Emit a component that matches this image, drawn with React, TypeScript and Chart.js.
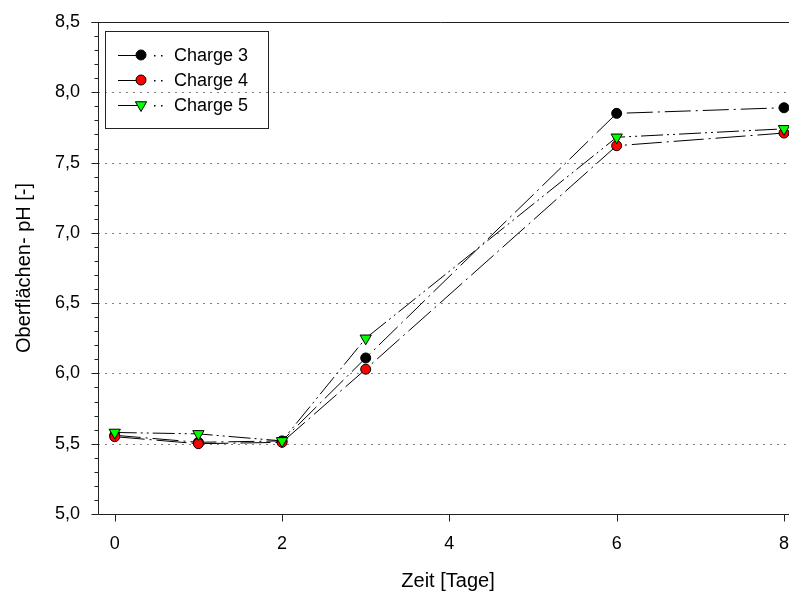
import React, { useEffect, useRef } from 'react';
import { Chart, registerables } from 'chart.js';

Chart.register(...registerables);

const days = [0, 1, 2, 3, 6, 8];
const charge3 = [5.56, 5.51, 5.52, 6.11, 7.85, 7.89];
const charge4 = [5.55, 5.5, 5.51, 6.03, 7.62, 7.71];
const charge5 = [5.58, 5.57, 5.52, 6.25, 7.68, 7.74];
const seriesNames = ['Charge 3', 'Charge 4', 'Charge 5'];
const xTickValues = [0, 2, 4, 6, 8];
const yMajorTicks = [5.0, 5.5, 6.0, 6.5, 7.0, 7.5, 8.0, 8.5];
const xTitle = 'Zeit [Tage]';
const yTitle = 'Oberflächen- pH [-]';

const FONT = "'Liberation Sans', Arial, sans-serif";

function drawMarker(ctx: CanvasRenderingContext2D, kind: string, x: number, y: number, fill: string) {
  ctx.save();
  ctx.fillStyle = fill;
  ctx.strokeStyle = '#000';
  ctx.lineWidth = 1;
  ctx.setLineDash([]);
  ctx.beginPath();
  if (kind === 'circle') {
    ctx.arc(x, y, 5, 0, Math.PI * 2);
  } else {
    const r = 6.5;
    const s = r * Math.sin(Math.PI / 3);
    ctx.moveTo(x, y + r);
    ctx.lineTo(x - s, y - r / 2);
    ctx.lineTo(x + s, y - r / 2);
    ctx.closePath();
  }
  ctx.fill();
  ctx.stroke();
  ctx.restore();
}

const decorPlugin = {
  id: 'decor',
  beforeDatasetsDraw(chart: any) {
    const { ctx, chartArea } = chart;
    const y = chart.scales.y;
    ctx.save();
    ctx.strokeStyle = '#808080';
    ctx.lineWidth = 1;
    ctx.setLineDash([2, 5]);
    yMajorTicks.forEach((v) => {
      if (v <= 5.0 || v >= 8.5) return;
      const py = Math.round(y.getPixelForValue(v)) + 0.5;
      ctx.beginPath();
      ctx.moveTo(chartArea.left, py);
      ctx.lineTo(chartArea.right, py);
      ctx.stroke();
    });
    ctx.restore();
  },
  afterDraw(chart: any) {
    const { ctx, chartArea } = chart;
    const xs = chart.scales.x;
    const ys = chart.scales.y;
    const L = Math.round(chartArea.left) + 0.5;
    const B = Math.round(chartArea.bottom) + 0.5;
    const T = Math.round(chartArea.top) + 0.5;
    ctx.save();
    ctx.strokeStyle = '#222';
    ctx.lineWidth = 1;
    ctx.setLineDash([]);
    ctx.beginPath();
    ctx.moveTo(L, T);
    ctx.lineTo(L, B);
    ctx.moveTo(L, B);
    ctx.lineTo(chartArea.right + 2, B);
    ctx.moveTo(L - 7, T);
    ctx.lineTo(chartArea.right + 2, T);
    for (let i = 0; i <= 35; i++) {
      const v = 5 + i / 10;
      const py = Math.round(ys.getPixelForValue(v)) + 0.5;
      const major = i % 5 === 0;
      ctx.moveTo(L - (major ? 7 : 4), py);
      ctx.lineTo(L, py);
    }
    xTickValues.forEach((v) => {
      const px = Math.round(xs.getPixelForValue(v)) + 0.5;
      ctx.moveTo(px, B);
      ctx.lineTo(px, B + 7);
    });
    ctx.stroke();

    ctx.fillStyle = '#000';
    ctx.font = `20px ${FONT}`;
    ctx.textAlign = 'center';
    ctx.textBaseline = 'middle';
    ctx.fillText(xTitle, 448, 581);
    ctx.save();
    ctx.translate(24, 268);
    ctx.rotate(-Math.PI / 2);
    ctx.fillText(yTitle, 0, 0);
    ctx.restore();

    ctx.strokeStyle = '#222';
    ctx.strokeRect(105.5, 31.5, 163, 97);
    const kinds = ['circle', 'circle', 'triangle'];
    const fills = ['#000000', '#ff0000', '#00ff00'];
    const rows = [55, 80, 105];
    ctx.font = `18px ${FONT}`;
    ctx.textAlign = 'left';
    rows.forEach((ry, i) => {
      ctx.strokeStyle = '#000';
      ctx.beginPath();
      ctx.moveTo(118, ry + 0.5);
      ctx.lineTo(140, ry + 0.5);
      ctx.stroke();
      ctx.fillStyle = '#000';
      ctx.fillRect(154, ry, 1.5, 1.5);
      ctx.fillRect(161, ry, 1.5, 1.5);
      drawMarker(ctx, kinds[i], 141, ry, fills[i]);
      ctx.fillStyle = '#000';
      ctx.fillText(seriesNames[i], 174, ry + 1);
    });
    ctx.restore();
  },
};

export default function App() {
  const ref = useRef<HTMLCanvasElement | null>(null);
  useEffect(() => {
    if (!ref.current) return;
    const mk = (vals: number[]) => days.map((d, i) => ({ x: d, y: vals[i] }));
    const common = {
      showLine: true,
      borderColor: '#000',
      borderWidth: 1,
      pointBorderColor: '#000',
      pointBorderWidth: 1,
      clip: false,
    };
    const chart = new Chart(ref.current, {
      type: 'scatter',
      data: {
        datasets: [
          {
            ...common,
            label: seriesNames[0],
            data: mk(charge3),
            borderDash: [26, 5, 2, 5],
            backgroundColor: '#000000',
            pointBackgroundColor: '#000000',
            pointRadius: 5,
            pointHoverRadius: 5,
            pointStyle: 'circle',
            order: 3,
          } as any,
          {
            ...common,
            label: seriesNames[1],
            data: mk(charge4),
            borderDash: [30, 5, 2, 5],
            backgroundColor: '#ff0000',
            pointBackgroundColor: '#ff0000',
            pointRadius: 5,
            pointHoverRadius: 5,
            pointStyle: 'circle',
            order: 2,
          } as any,
          {
            ...common,
            label: seriesNames[2],
            data: mk(charge5),
            borderDash: [22, 4, 2, 4, 2, 4],
            backgroundColor: '#00ff00',
            pointBackgroundColor: '#00ff00',
            pointRadius: 6.5,
            pointHoverRadius: 6.5,
            pointStyle: 'triangle',
            pointRotation: 180,
            order: 1,
          } as any,
        ],
      },
      options: {
        responsive: false,
        animation: false,
        events: [],
        layout: { autoPadding: false, padding: { top: 22, right: 0, left: 0, bottom: 0 } },
        plugins: { legend: { display: false }, tooltip: { enabled: false } },
        scales: {
          x: {
            type: 'linear',
            min: -0.2,
            max: 8.06,
            grid: { display: false },
            border: { display: false },
            afterBuildTicks: (s: any) => {
              s.ticks = xTickValues.map((v) => ({ value: v }));
            },
            afterFit: (s: any) => {
              s.height = 80;
              s.paddingLeft = 0;
              s.paddingRight = 0;
            },
            ticks: {
              padding: 11,
              color: '#000',
              font: { family: FONT, size: 18 },
              maxRotation: 0,
              autoSkip: false,
              callback: (v: any) => String(v),
            },
          },
          y: {
            type: 'linear',
            min: 5,
            max: 8.5,
            grid: { display: false },
            border: { display: false },
            afterBuildTicks: (s: any) => {
              s.ticks = yMajorTicks.map((v) => ({ value: v }));
            },
            afterFit: (s: any) => {
              s.width = 98;
              s.paddingTop = 0;
              s.paddingBottom = 0;
            },
            ticks: {
              padding: 10,
              color: '#000',
              font: { family: FONT, size: 18 },
              autoSkip: false,
              callback: (v: any) => Number(v).toFixed(1).replace('.', ','),
            },
          },
        },
      },
      plugins: [decorPlugin],
    });
    return () => chart.destroy();
  }, []);
  return (
    <div style={{ position: 'fixed', left: 0, top: 0, width: 789, height: 594, background: '#fff' }}>
      <canvas ref={ref} width={789} height={594} style={{ display: 'block' }} />
    </div>
  );
}
